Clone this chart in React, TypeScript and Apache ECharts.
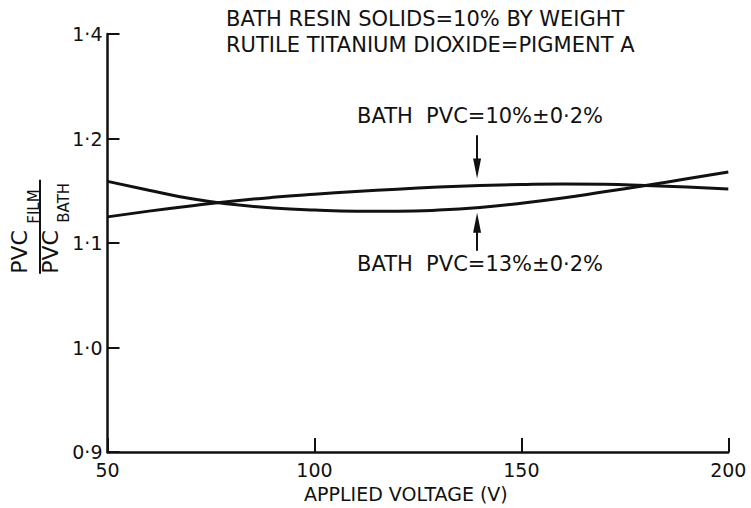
import React, { useEffect, useRef } from "react";
import * as echarts from "echarts";

const FONT = "DejaVu Sans, Verdana, sans-serif";
const INK = "#111111";

// Applied voltage (V)
const voltages = [50, 60, 70, 80, 90, 100, 110, 120, 130, 140, 150, 160, 170, 180, 190, 200];
// PVC_film / PVC_bath, bath PVC = 10% ± 0.2%
const pvc10 = [1.125, 1.1305, 1.1355, 1.14, 1.1437, 1.1467, 1.1493, 1.1515, 1.1535, 1.155, 1.156, 1.1565, 1.1562, 1.155, 1.1535, 1.1517];
// PVC_film / PVC_bath, bath PVC = 13% ± 0.2%
const pvc13 = [1.159, 1.1505, 1.1425, 1.137, 1.1335, 1.1315, 1.1305, 1.1305, 1.1315, 1.134, 1.138, 1.143, 1.149, 1.155, 1.1615, 1.168];

const xTicks = [50, 100, 150, 200];
const yTickValues = [0.9, 1.0, 1.1, 1.2, 1.3];
const yTickLabels = ["0·9", "1·0", "1·1", "1·2", "1·4"];

const titleLines = ["BATH RESIN SOLIDS=10% BY WEIGHT", "RUTILE TITANIUM DIOXIDE=PIGMENT A"];
const label10 = "BATH  PVC=10%±0·2%";
const label13 = "BATH  PVC=13%±0·2%";

// arrows (data coordinates): [x, yStart, yEnd]
const arrowDown = [139.3, 1.203, 1.1714];
const arrowUp = [139.3, 1.0926, 1.1194];

export default function App() {
  const ref = useRef<HTMLDivElement>(null);
  useEffect(() => {
    if (!ref.current) return;
    const chart = echarts.init(ref.current, null, { renderer: "svg" });
    const option: any = {
      animation: false,
      backgroundColor: "#ffffff",
      grid: { left: 107.5, right: 22.7, top: 34, bottom: 51, containLabel: false },
      xAxis: {
        type: "value",
        min: xTicks[0],
        max: xTicks[xTicks.length - 1],
        interval: 50,
        axisLine: { show: true, lineStyle: { color: INK, width: 2.5 } },
        axisTick: { show: true, inside: true, length: 14, lineStyle: { color: INK, width: 2 } },
        axisLabel: { color: INK, fontSize: 19, margin: 8, fontFamily: FONT },
        splitLine: { show: false },
        name: "APPLIED VOLTAGE (V)",
        nameLocation: "middle",
        nameGap: 32,
        nameTextStyle: { color: INK, fontSize: 19, fontFamily: FONT, padding: [0, 24, 0, 0] },
      },
      yAxis: {
        type: "value",
        min: 0.9,
        max: 1.3,
        interval: 0.1,
        axisLine: { show: true, lineStyle: { color: INK, width: 2.5 } },
        axisTick: { show: true, inside: true, length: 12, lineStyle: { color: INK, width: 2 } },
        axisLabel: {
          color: INK,
          fontSize: 19,
          margin: 5,
          fontFamily: FONT,
          formatter: (v: number) => {
            const i = yTickValues.findIndex((t) => Math.abs(t - v) < 1e-6);
            return i >= 0 ? yTickLabels[i] : "";
          },
        },
        splitLine: { show: false },
      },
      series: [
        {
          type: "line",
          name: "10%",
          data: voltages.map((v, i) => [v, pvc10[i]]),
          smooth: 0.5,
          showSymbol: false,
          symbol: "none",
          lineStyle: { color: INK, width: 3 },
          markLine: {
            silent: true,
            symbol: ["none", "triangle"],
            symbolSize: [8, 20],
            label: { show: false },
            lineStyle: { color: INK, width: 2, type: "solid" },
            itemStyle: { color: INK },
            data: [
              [{ coord: [arrowDown[0], arrowDown[1]] }, { coord: [arrowDown[0], arrowDown[2]] }],
              [{ coord: [arrowUp[0], arrowUp[1]] }, { coord: [arrowUp[0], arrowUp[2]] }],
            ],
          },
        },
        {
          type: "line",
          name: "13%",
          data: voltages.map((v, i) => [v, pvc13[i]]),
          smooth: 0.5,
          showSymbol: false,
          symbol: "none",
          lineStyle: { color: INK, width: 3 },
        },
      ],
      graphic: [
        { type: "text", left: 226, top: 8, style: { text: titleLines[0], fontSize: 21, fill: INK, fontFamily: FONT } },
        { type: "text", left: 226, top: 34.5, style: { text: titleLines[1], fontSize: 21, fill: INK, fontFamily: FONT } },
        { type: "text", left: 357, top: 105, style: { text: label10, fontSize: 21, fill: INK, fontFamily: FONT } },
        { type: "text", left: 357, top: 253, style: { text: label13, fontSize: 21, fill: INK, fontFamily: FONT } },
        {
          type: "group",
          x: 40,
          y: 226.7,
          rotation: Math.PI / 2,
          children: [
            { type: "text", x: -47, y: -10, style: { text: "PVC", fontSize: 22, fill: INK, fontFamily: FONT, verticalAlign: "bottom", align: "left" } },
            { type: "text", x: 3, y: 1, style: { text: "FILM", fontSize: 15, fill: INK, fontFamily: FONT, verticalAlign: "bottom", align: "left" } },
            { type: "line", shape: { x1: -47, y1: 0, x2: 47, y2: 0 }, style: { stroke: INK, lineWidth: 2 } },
            { type: "text", x: -47, y: -1, style: { text: "PVC", fontSize: 22, fill: INK, fontFamily: FONT, verticalAlign: "top", align: "left" } },
            { type: "text", x: 4, y: 31, style: { text: "BATH", fontSize: 15, fill: INK, fontFamily: FONT, verticalAlign: "bottom", align: "left" } },
          ],
        },
      ],
    };
    chart.setOption(option);
    return () => chart.dispose();
  }, []);
  return <div ref={ref} style={{ width: 751, height: 508, position: "absolute", left: 0, top: 0 }} />;
}
